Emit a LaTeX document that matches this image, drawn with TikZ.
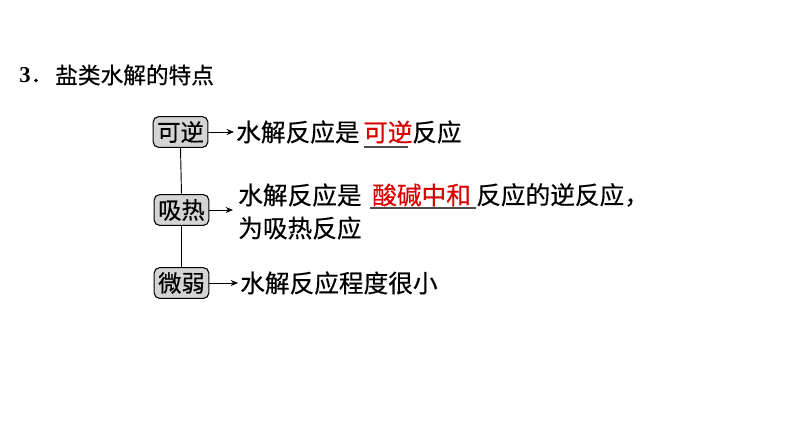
\documentclass[tikz,border=0pt]{standalone}
\usepackage{fontspec}
\setmainfont{Noto Sans CJK SC}[FakeBold=0.4]
\newfontfamily\numfont{Liberation Serif}
\usetikzlibrary{arrows.meta}
\begin{document}
\begin{tikzpicture}[x=0.75pt,y=-0.75pt,
  boxnode/.style={draw=black,line width=0.8pt,rounded corners=4pt,fill=black!17,
    minimum width=41pt,minimum height=23pt,inner sep=0pt,font=\fontsize{17.5}{18}\selectfont},
  txt/.style={anchor=west,inner xsep=1.5pt,inner ysep=0pt,font=\fontsize{18.5}{20}\selectfont},
  red txt/.style={txt,text=red!85!black},
  conn/.style={-{Stealth[length=5.5pt,width=4.5pt]},line width=0.7pt},
  uline/.style={line width=0.8pt,black!70}]
\useasboundingbox (0,0) rectangle (794,447);
% title
\node[anchor=west,inner sep=0pt,font=\fontsize{17}{19}\selectfont] (num) at (19,75) {{\numfont\bfseries 3}．};
\node[anchor=west,inner sep=0pt,font=\fontsize{17}{19}\selectfont] (title) at (55,75) {盐类水解的特点};
% boxes
\node[boxnode] (b1) at (180.5,132) {可逆};
\node[boxnode] (b2) at (181.5,210) {吸热};
\node[boxnode] (b3) at (181.5,283) {微弱};
% row 1
\node[txt] (t1) at (234,132) {水解反应是};
\node[red txt] (r1) at (361,132) {可逆};
\node[txt] (t1b) at (410,132) {反应};
\coordinate (u1a) at (364,147);
\coordinate (u1b) at (408,147);
\draw[uline] (u1a) -- (u1b);
% row 2
\node[txt] (t2) at (236,195) {水解反应是};
\node[red txt] (r2) at (370,195) {酸碱中和};
\node[txt] (t2b) at (474,195) {反应的逆反应，};
\node[txt] (t2c) at (236,228) {为吸热反应};
\coordinate (u2a) at (370,208);
\coordinate (u2b) at (476,208);
\draw[uline] (u2a) -- (u2b);
\coordinate (a2) at (233,210);
% row 3
\node[txt] (t3) at (238,283) {水解反应程度很小};
% connectors
\draw[line width=0.7pt] (b1.south) -- (b2.north);
\draw[line width=0.7pt] (b2.south) -- (b3.north);
\draw[conn] (b1.east) -- (t1.west);
\draw[conn] (b2.east) -- (a2);
\draw[conn] (b3.east) -- (t3.west);
\end{tikzpicture}
\end{document}
